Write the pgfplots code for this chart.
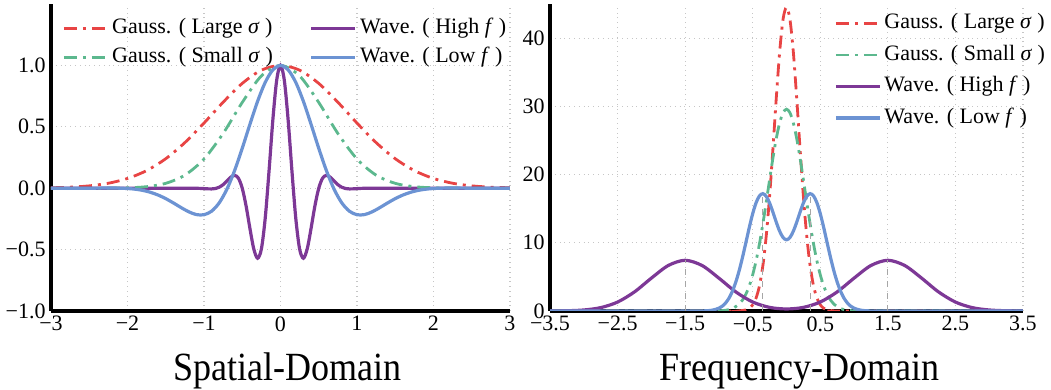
\documentclass[border=0pt]{standalone}
\usepackage{fontspec}
\setmainfont{Liberation Serif}
\newfontfamily\titlefont[FakeStretch=0.9]{Liberation Serif}
\usepackage{pgfplots}
\pgfplotsset{compat=1.18}

\definecolor{cRed}{RGB}{232,68,68}
\definecolor{cGreen}{RGB}{92,184,142}
\definecolor{cPurple}{RGB}{125,56,150}
\definecolor{cBlue}{RGB}{108,147,211}

\pgfplotsset{
  panel/.style={
    scale only axis,
    height=153.5pt,
    axis lines*=left,
    axis line style={line width=2.2pt, black},
    major tick length=0pt,
    grid=major,
    grid style={dotted, gray!45, line width=0.6pt},
    tick label style={font=\fontsize{11}{13}\selectfont},
    xticklabel style={inner sep=1pt, yshift=-1.5pt},
    yticklabel style={inner sep=1.5pt, xshift=-1pt},
    legend cell align=left,
    legend image code/.code={\draw[#1] (0pt,0pt) -- (22pt,0pt);},
    every axis plot/.append style={smooth, line width=1.4pt},
  },
  ddot/.style={dash pattern=on 6.5pt off 3pt on 1.5pt off 3pt},
}

\begin{document}
\begin{tikzpicture}

% ---------------- spatial domain ----------------
\begin{axis}[panel, name=ax1, at={(0,0)},
    width=229.5pt,
    xmin=-3, xmax=3, ymin=-1, ymax=1.5,
    xtick={-3,-2,-1,0,1,2,3},
    xticklabels={−3,−2,−1,0,1,2,3},
    ytick={-1,-0.5,0,0.5,1},
    yticklabels={−1.0,−0.5,0.0,0.5,1.0},
    legend columns=2,
    legend style={at={(0.024,0.966)}, anchor=north west, draw=none, fill=none,
      inner sep=0pt, font=\fontsize{11}{13}\selectfont, row sep=1pt,
      nodes={inner sep=1.5pt, text height=8pt, text depth=2.5pt},
      /tikz/every even column/.append style={column sep=17pt}},
  ]
  \addplot[cRed, ddot] coordinates {
    (-3,0.0033) (-2.75,0.0083) (-2.5,0.0190) (-2.25,0.0404) (-2,0.0791)
    (-1.75,0.1434) (-1.5,0.2401) (-1.25,0.3713) (-1,0.5304) (-0.75,0.7000)
    (-0.5,0.8534) (-0.25,0.9611) (0,1)
    (0.25,0.9611) (0.5,0.8534) (0.75,0.7000) (1,0.5304) (1.25,0.3713)
    (1.5,0.2401) (1.75,0.1434) (2,0.0791) (2.25,0.0404) (2.5,0.0190)
    (2.75,0.0083) (3,0.0033)
  };
  \addlegendentry{Gauss. ( Large \textit{σ} )}

  \addplot[cPurple, line width=1.6pt] coordinates {
    (-3,0) (-2,0) (-1.5,0) (-1.2,0) (-1.1,-0.0006) (-1.05,-0.0017) (-1,-0.0034)
    (-0.95,-0.0053) (-0.9,-0.0059) (-0.85,-0.0026) (-0.8,0.0082) (-0.75,0.0289)
    (-0.7,0.0588) (-0.65,0.0896) (-0.6,0.1046) (-0.55,0.0814) (-0.5,0)
    (-0.45,-0.1436) (-0.4,-0.3260) (-0.35,-0.4925) (-0.3,-0.5704) (-0.25,-0.4958)
    (-0.2,-0.2462) (-0.15,0.1376) (-0.1,0.5553) (-0.05,0.8784) (0,1)
    (0.05,0.8784) (0.1,0.5553) (0.15,0.1376) (0.2,-0.2462) (0.25,-0.4958)
    (0.3,-0.5704) (0.35,-0.4925) (0.4,-0.3260) (0.45,-0.1436) (0.5,0)
    (0.55,0.0814) (0.6,0.1046) (0.65,0.0896) (0.7,0.0588) (0.75,0.0289)
    (0.8,0.0082) (0.85,-0.0026) (0.9,-0.0059) (0.95,-0.0053) (1,-0.0034)
    (1.05,-0.0017) (1.1,-0.0006) (1.2,0) (1.5,0) (2,0) (3,0)
  };
  \addlegendentry{Wave. ( High \textit{f} )}

  \addplot[cGreen, ddot] coordinates {
    (-3,0) (-2.75,0) (-2.5,0.0001) (-2.25,0.0007) (-2,0.0032) (-1.75,0.0123)
    (-1.5,0.0395) (-1.25,0.1060) (-1,0.2378) (-0.75,0.4457) (-0.5,0.6983)
    (-0.25,0.9141) (0,1)
    (0.25,0.9141) (0.5,0.6983) (0.75,0.4457) (1,0.2378) (1.25,0.1060)
    (1.5,0.0395) (1.75,0.0123) (2,0.0032) (2.25,0.0007) (2.5,0.0001)
    (2.75,0) (3,0)
  };
  \addlegendentry{Gauss. ( Small \textit{σ} )}

  \addplot[cBlue, line width=1.6pt] coordinates {
    (-3,0) (-2.5,0) (-2.2,0.0014) (-2,-0.0025) (-1.9,-0.0081) (-1.8,-0.0179)
    (-1.7,-0.0334) (-1.6,-0.0557) (-1.5,-0.0850) (-1.4,-0.1201) (-1.3,-0.1576)
    (-1.2,-0.1919) (-1.1,-0.2148) (-1,-0.2161) (-0.9,-0.1869) (-0.8,-0.1183)
    (-0.7,-0.0074) (-0.6,0.1436) (-0.5,0.3250) (-0.4,0.5196) (-0.3,0.7063)
    (-0.2,0.8614) (-0.1,0.9640) (0,1)
    (0.1,0.9640) (0.2,0.8614) (0.3,0.7063) (0.4,0.5196) (0.5,0.3250)
    (0.6,0.1436) (0.7,-0.0074) (0.8,-0.1183) (0.9,-0.1869) (1,-0.2161)
    (1.1,-0.2148) (1.2,-0.1919) (1.3,-0.1576) (1.4,-0.1201) (1.5,-0.0850)
    (1.6,-0.0557) (1.7,-0.0334) (1.8,-0.0179) (1.9,-0.0081) (2,-0.0025)
    (2.2,0.0014) (2.5,0) (3,0)
  };
  \addlegendentry{Wave. ( Low \textit{f} )}
\end{axis}

% ---------------- frequency domain ----------------
\begin{axis}[panel, name=ax2, at={(249.5pt,0)},
    width=236.5pt,
    xmin=-3.5, xmax=3.5, ymin=0, ymax=45,
    xtick={-3.5,-2.5,-1.5,-0.5,0.5,1.5,2.5,3.5},
    xticklabels={−3.5,−2.5,−1.5,−0.5,0.5,1.5,2.5,3.5},
    ytick={0,10,20,30,40},
    yticklabels={0,10,20,30,40},
    legend style={at={(0.60,0.982)}, anchor=north west, draw=none, fill=none,
      inner sep=0pt, font=\fontsize{11}{13}\selectfont, row sep=2.25pt,
      nodes={inner sep=1.5pt, text height=8pt, text depth=2.5pt}},
  ]
  \addplot[cRed, ddot] coordinates {
    (-3.5,0) (-0.8,0) (-0.7,0.02) (-0.6,0.16) (-0.55,0.40) (-0.5,0.91)
    (-0.45,1.91) (-0.4,3.69) (-0.35,6.62) (-0.3,10.97) (-0.25,16.83)
    (-0.2,23.89) (-0.15,31.37) (-0.1,38.10) (-0.05,42.82) (0,44.52)
    (0.05,42.82) (0.1,38.10) (0.15,31.37) (0.2,23.89) (0.25,16.83)
    (0.3,10.97) (0.35,6.62) (0.4,3.69) (0.45,1.91) (0.5,0.91) (0.55,0.40)
    (0.6,0.16) (0.7,0.02) (0.8,0) (3.5,0)
  };
  \addlegendentry{Gauss. ( Large \textit{σ} )}

  \addplot[cGreen, ddot] coordinates {
    (-3.5,0) (-1.2,0) (-1,0.03) (-0.9,0.11) (-0.8,0.36) (-0.7,1.02)
    (-0.65,1.62) (-0.6,2.49) (-0.55,3.70) (-0.5,5.31) (-0.45,7.36)
    (-0.4,9.85) (-0.35,12.75) (-0.3,15.94) (-0.25,19.25) (-0.2,22.47)
    (-0.15,25.34) (-0.1,27.62) (-0.05,29.08) (0,29.58)
    (0.05,29.08) (0.1,27.62) (0.15,25.34) (0.2,22.47) (0.25,19.25)
    (0.3,15.94) (0.35,12.75) (0.4,9.85) (0.45,7.36) (0.5,5.31) (0.55,3.70)
    (0.6,2.49) (0.65,1.62) (0.7,1.02) (0.8,0.36) (0.9,0.11) (1,0.03)
    (1.2,0) (3.5,0)
  };
  \addlegendentry{Gauss. ( Small \textit{σ} )}

  \addplot[cPurple, line width=1.6pt] coordinates {
    (-3.5,0.007) (-3.25,0.036) (-3,0.149) (-2.75,0.493) (-2.5,1.309)
    (-2.25,2.798) (-2,4.816) (-1.75,6.670) (-1.5,7.435) (-1.25,6.670)
    (-1,4.816) (-0.75,2.800) (-0.5,1.317) (-0.25,0.529) (0,0.299)
    (0.25,0.529) (0.5,1.317) (0.75,2.800) (1,4.816) (1.25,6.670)
    (1.5,7.435) (1.75,6.670) (2,4.816) (2.25,2.798) (2.5,1.309)
    (2.75,0.493) (3,0.149) (3.25,0.036) (3.5,0.007)
  };
  \addlegendentry{Wave. ( High \textit{f} )}

  \addplot[cBlue, line width=1.6pt] coordinates {
    (-3.5,0) (-1.3,0) (-1.2,0.03) (-1.1,0.115) (-1,0.41) (-0.95,0.71)
    (-0.9,1.19) (-0.85,1.90) (-0.8,2.91) (-0.75,4.25) (-0.7,5.93)
    (-0.65,7.91) (-0.6,10.07) (-0.55,12.27) (-0.5,14.27) (-0.45,15.87)
    (-0.4,16.88) (-0.35,17.20) (-0.3,16.81) (-0.25,15.83) (-0.2,14.46)
    (-0.15,12.98) (-0.1,11.67) (-0.05,10.76) (0,10.44)
    (0.05,10.76) (0.1,11.67) (0.15,12.98) (0.2,14.46) (0.25,15.83)
    (0.3,16.81) (0.35,17.20) (0.4,16.88) (0.45,15.87) (0.5,14.27)
    (0.55,12.27) (0.6,10.07) (0.65,7.91) (0.7,5.93) (0.75,4.25) (0.8,2.91)
    (0.85,1.90) (0.9,1.19) (0.95,0.71) (1,0.41) (1.1,0.115) (1.2,0.03)
    (1.3,0) (3.5,0)
  };
  \addlegendentry{Wave. ( Low \textit{f} )}

  % peak markers
  \addplot[forget plot, sharp plot, gray!70, dashed, line width=0.6pt] coordinates {(-1.5,0) (-1.5,7.435)};
  \addplot[forget plot, sharp plot, gray!70, dashed, line width=0.6pt] coordinates {(1.5,0) (1.5,7.435)};
  \addplot[forget plot, sharp plot, gray!70, dashed, line width=0.6pt] coordinates {(-0.36,0) (-0.36,17.2)};
  \addplot[forget plot, sharp plot, gray!70, dashed, line width=0.6pt] coordinates {(0.36,0) (0.36,17.2)};
\end{axis}

\node[anchor=base, font=\titlefont\fontsize{20}{24}\selectfont] at ([xshift=3.5pt, yshift=-35pt]ax1.south) {Spatial-Domain};
\node[anchor=base, font=\titlefont\fontsize{20}{24}\selectfont] at ([xshift=6.5pt, yshift=-35pt]ax2.south) {Frequency-Domain};

\pgfresetboundingbox
\path[use as bounding box] (-25.5pt,-39.5pt) rectangle (500pt,155.5pt);
\end{tikzpicture}
\end{document}
